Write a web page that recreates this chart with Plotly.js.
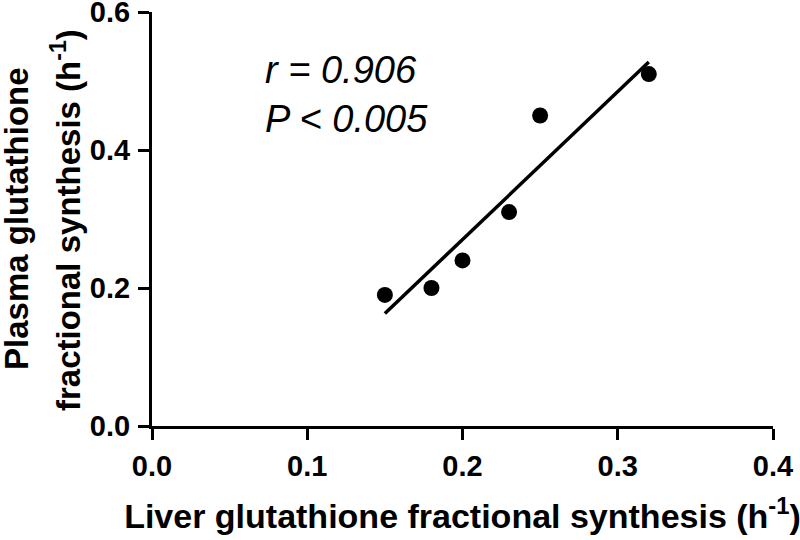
<!DOCTYPE html>
<html>
<head>
<meta charset="utf-8">
<script src="https://cdn.plot.ly/plotly-3.0.1.min.js"></script>
<style>html,body{margin:0;padding:0;background:#fff;}#chart{width:800px;height:540px;}</style>
</head>
<body>
<div id="chart"></div>
<script>
// Data
var liverFSR  = [0.15, 0.18, 0.20, 0.23, 0.25, 0.32];   // x, h^-1
var plasmaFSR = [0.19, 0.20, 0.24, 0.31, 0.45, 0.51];   // y, h^-1
var xTicks = [0.0, 0.1, 0.2, 0.3, 0.4];
var yTicks = [0.0, 0.2, 0.4, 0.6];
var xTickText = ['0.0', '0.1', '0.2', '0.3', '0.4'];
var yTickText = ['0.0', '0.2', '0.4', '0.6'];
var statsText = ['r = 0.906', 'P < 0.005'];
var xTitle = 'Liver glutathione fractional synthesis (h<sup>-1</sup>)';
var yTitleLines = ['Plasma glutathione', 'fractional synthesis (h<sup>-1</sup>)'];

// Least-squares regression line over the data range
function linFit(x, y) {
  var n = x.length, mx = 0, my = 0;
  for (var i = 0; i < n; i++) { mx += x[i]; my += y[i]; }
  mx /= n; my /= n;
  var sxy = 0, sxx = 0;
  for (var j = 0; j < n; j++) { sxy += (x[j]-mx)*(y[j]-my); sxx += (x[j]-mx)*(x[j]-mx); }
  var b = sxy / sxx, a = my - b*mx;
  var x0 = Math.min.apply(null, x), x1 = Math.max.apply(null, x);
  return {x: [x0, x1], y: [a + b*x0, a + b*x1]};
}
var fit = linFit(liverFSR, plasmaFSR);

var FONT = 'Liberation Sans, Arial, sans-serif';

var traces = [
  {x: fit.x, y: fit.y, mode: 'lines', type: 'scatter',
   line: {color: '#000', width: 3.5}, hoverinfo: 'skip', showlegend: false, cliponaxis: false},
  {x: liverFSR, y: plasmaFSR, mode: 'markers', type: 'scatter',
   marker: {color: '#000', size: 16}, showlegend: false, cliponaxis: false}
];

var axisCommon = {
  showgrid: false, zeroline: false, showline: true, linecolor: '#000', linewidth: 3,
  ticks: 'outside', ticklen: 11, tickwidth: 3, tickcolor: '#000',
  ticklabeloverflow: 'allow',
  tickfont: {family: FONT, size: 29, color: '#000', weight: 'bold'},
  fixedrange: true
};

var layout = {
  width: 800, height: 540,
  margin: {l: 152, r: 27, t: 12, b: 114},
  paper_bgcolor: '#fff', plot_bgcolor: '#fff',
  xaxis: Object.assign({}, axisCommon, {
    range: [0, 0.4], tickvals: xTicks, ticktext: xTickText,
    ticklabelstandoff: 1,
    title: {text: xTitle, font: {family: FONT, size: 34, color: '#000', weight: 'bold'}, standoff: 24}
  }),
  yaxis: Object.assign({}, axisCommon, {
    range: [0, 0.6], tickvals: yTicks, ticktext: yTickText,
    ticklabelstandoff: 2
  }),
  annotations: [
    {xref: 'paper', yref: 'paper', x: 0, y: 0.5, xanchor: 'center', yanchor: 'middle',
     xshift: -136, yshift: 0, textangle: -90, showarrow: false, text: yTitleLines[0],
     font: {family: FONT, size: 33, color: '#000', weight: 'bold'}},
    {xref: 'paper', yref: 'paper', x: 0, y: 0.5, xanchor: 'center', yanchor: 'middle',
     xshift: -86, yshift: -1, textangle: -90, showarrow: false, text: yTitleLines[1],
     font: {family: FONT, size: 33, color: '#000', weight: 'bold'}},
    {xref: 'x', yref: 'y', x: 0.0716, y: 0.48, xanchor: 'left', yanchor: 'middle',
     showarrow: false, align: 'left', text: statsText.join('<br>'),
     font: {family: FONT, size: 38, color: '#000', style: 'italic'}}
  ]
};

Plotly.newPlot('chart', traces, layout, {displayModeBar: false, staticPlot: true});
</script>
</body>
</html>
